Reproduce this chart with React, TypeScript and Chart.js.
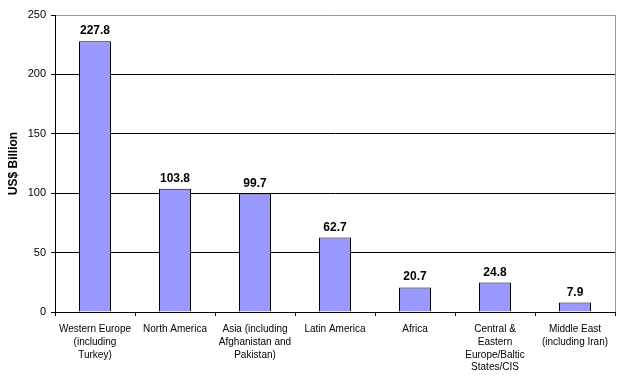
import React, { useEffect, useRef } from 'react';
import { Chart, registerables } from 'chart.js';

Chart.register(...registerables);

const categories: string[][] = [
  ['Western Europe', '(including', 'Turkey)'],
  ['North America'],
  ['Asia (including', 'Afghanistan and', 'Pakistan)'],
  ['Latin America'],
  ['Africa'],
  ['Central &', 'Eastern', 'Europe/Baltic', 'States/CIS'],
  ['Middle East', '(including Iran)'],
];
const values: number[] = [227.8, 103.8, 99.7, 62.7, 20.7, 24.8, 7.9];
const yMin = 0;
const yMax = 250;
const yStep = 50;
const yTitle = 'US$ Billion';

const FONT = 'Arial, "Liberation Sans", sans-serif';

const valueLabels = {
  id: 'valueLabels',
  afterDatasetsDraw(chart: any) {
    const ctx = chart.ctx;
    const meta = chart.getDatasetMeta(0);
    ctx.save();
    ctx.font = `bold 12px ${FONT}`;
    ctx.fillStyle = '#000';
    ctx.textAlign = 'center';
    ctx.textBaseline = 'alphabetic';
    meta.data.forEach((bar: any, i: number) => {
      ctx.fillText(values[i].toFixed(1), bar.x, bar.y - 7);
    });
    ctx.restore();
  },
};

const frame = {
  id: 'frame',
  afterDraw(chart: any) {
    const { ctx, chartArea } = chart;
    ctx.save();
    ctx.strokeStyle = '#999';
    ctx.lineWidth = 1;
    ctx.beginPath();
    const x = Math.round(chartArea.right) + 0.5;
    ctx.moveTo(x, chartArea.top);
    ctx.lineTo(x, chartArea.bottom);
    ctx.stroke();
    ctx.restore();
  },
};

export default function App() {
  const ref = useRef<HTMLCanvasElement | null>(null);
  useEffect(() => {
    if (!ref.current) return;
    const chart = new Chart(ref.current, {
      type: 'bar',
      data: {
        labels: categories,
        datasets: [
          {
            data: values,
            backgroundColor: '#9999FF',
            borderColor: '#000',
            borderWidth: 1,
            barPercentage: 0.4,
            categoryPercentage: 1,
          },
        ],
      },
      options: {
        animation: false,
        responsive: false,
        devicePixelRatio: 1,
        layout: { padding: { top: 15, right: 5, left: 0, bottom: 0 } },
        plugins: {
          legend: { display: false },
          tooltip: { enabled: false },
        },
        scales: {
          x: {
            grid: {
              display: true,
              drawOnChartArea: false,
              offset: true,
              tickLength: 4,
              color: '#000',
            },
            border: { display: true, color: '#000' },
            ticks: {
              color: '#000',
              font: { family: FONT, size: 10, lineHeight: 1.27 },
              padding: 7,
              maxRotation: 0,
              autoSkip: false,
            },
            afterFit(scale: any) {
              scale.height = 64;
            },
          },
          y: {
            min: yMin,
            max: yMax,
            ticks: {
              stepSize: yStep,
              color: '#000',
              font: { family: FONT, size: 11 },
              padding: 5,
            },
            grid: {
              color: (c: any) => (c.tick && c.tick.value === yMax ? '#999' : '#000'),
              tickColor: '#000',
              tickLength: 4,
            },
            border: { display: true, color: '#000' },
            title: {
              display: true,
              text: yTitle,
              color: '#000',
              font: { family: FONT, size: 12, weight: 'bold' },
              padding: { top: 6, bottom: 0 },
            },
            afterFit(scale: any) {
              scale.width = 55;
            },
          },
        },
      },
      plugins: [valueLabels, frame],
    });
    return () => chart.destroy();
  }, []);
  return (
    <div style={{ position: 'absolute', left: 0, top: 0, width: 620, height: 376, background: '#fff' }}>
      <canvas ref={ref} width={620} height={376} />
    </div>
  );
}
